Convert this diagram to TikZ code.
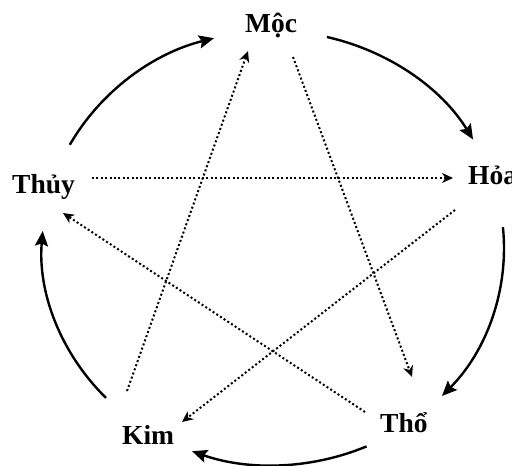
\documentclass[tikz,border=0pt]{standalone}
\usepackage{fontspec}
\setmainfont{Liberation Serif}
\usetikzlibrary{arrows.meta}
\begin{document}
\begin{tikzpicture}[x=1pt,y=1pt,
  lbl/.style={font=\fontsize{27.5}{30}\selectfont\bfseries, inner sep=0pt, anchor=base west},
  cyc/.style={line width=2.4pt, -{Stealth[length=15pt,width=13pt,inset=2.5pt]}},
  ctl/.style={line width=2pt, dash pattern=on 2pt off 2.4pt, -{Stealth[length=11pt,width=10pt,inset=3.5pt]}}]
\clip (0,0) rectangle (512,466);
% elements
\node[lbl] (moc) at (245,433) {Mộc};
\node[lbl] (hoa) at (468,281) {Hỏa};
\node[lbl] (thuy) at (12,272) {Thủy};
\node[lbl] (kim) at (122,21) {Kim};
\node[lbl] (tho) at (380,33) {Thổ};
% generating cycle (ellipse arcs)
\coordinate (ctr) at (273,218);
\path (ctr) ++(151.6:231 and 217) coordinate (a1);
\path (ctr) ++(76.5:231 and 217) coordinate (a2);
\path (ctr) ++(5.5:231 and 217) coordinate (a3);
\path (ctr) ++(-66.1:231 and 217) coordinate (a4);
\path (ctr) ++(-136.3:231 and 217) coordinate (a5);
\draw[cyc] (a1) arc[start angle=151.6, end angle=104.8, x radius=231, y radius=217];
\draw[cyc] (a2) arc[start angle=76.5, end angle=30, x radius=231, y radius=217];
\draw[cyc] (a3) arc[start angle=5.5, end angle=-43, x radius=231, y radius=217];
\draw[cyc] (a4) arc[start angle=-66.1, end angle=-110.5, x radius=231, y radius=217];
\draw[cyc] (a5) arc[start angle=-136.3, end angle=-184.5, x radius=231, y radius=217];
% controlling star
\coordinate (kimU) at (127,75);
\coordinate (mocL) at (248,415);
\coordinate (mocR) at (293,409);
\coordinate (thoU) at (412,89);
\coordinate (thuyR) at (92,288);
\coordinate (hoaL) at (453,288);
\coordinate (hoaD) at (455,256);
\coordinate (kimR) at (182,44);
\coordinate (thoL) at (365,54);
\coordinate (thuyD) at (63,253);
\draw[ctl] (kimU) -- (mocL);
\draw[ctl] (mocR) -- (thoU);
\draw[ctl] (thuyR) -- (hoaL);
\draw[ctl] (hoaD) -- (kimR);
\draw[ctl] (thoL) -- (thuyD);
\end{tikzpicture}
\end{document}
